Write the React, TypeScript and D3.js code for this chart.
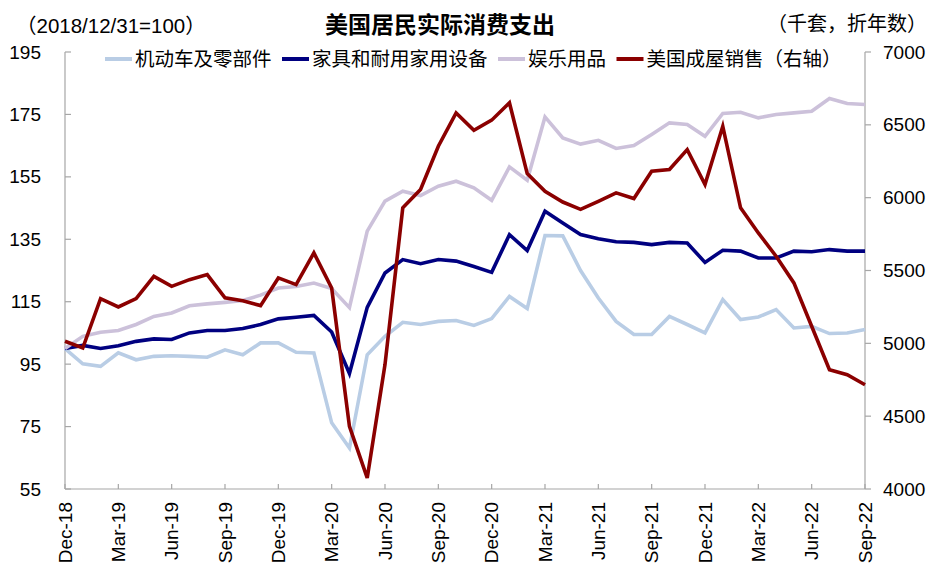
import * as d3 from "d3";

const W = 930;
const H = 570;
const PLOT = { left: 65, right: 865, top: 52, bottom: 489 };

// monthly labels Dec-18 ... Sep-22
const MONTHS = ["Jan", "Feb", "Mar", "Apr", "May", "Jun", "Jul", "Aug", "Sep", "Oct", "Nov", "Dec"];
const monthLabels: string[] = ["Dec-18"];
for (let y = 19; y <= 22; y++) {
    for (let m = 0; m < 12; m++) {
        if (y === 22 && m > 8) break;
        monthLabels.push(`${MONTHS[m]}-${y}`);
    }
}

const leftTicks = [55, 75, 95, 115, 135, 155, 175, 195];
const rightTicks = [4000, 4500, 5000, 5500, 6000, 6500, 7000];

const seriesNames = ["机动车及零部件", "家具和耐用家用设备", "娱乐用品", "美国成屋销售（右轴）"];
const seriesColors = ["#B9CDE5", "#000080", "#CCC1DA", "#8B0000"];

const autoParts = [
    100, 95.1, 94.3, 98.6, 96.4, 97.5, 97.7, 97.5, 97.2, 99.6, 98.0, 101.8, 101.8, 98.8, 98.6, 76.2,
    68.1, 98.0, 103.9, 108.4, 107.7, 108.7, 109.0, 107.4, 109.6, 116.7, 112.8, 136.2, 136.1, 125.0,
    116.2, 108.7, 104.5, 104.5, 110.3, 107.7, 105.0, 115.7, 109.3, 110.1, 112.5, 106.6, 107.1, 104.8,
    105.0, 106.1,
];
const furniture = [
    100, 101.0, 100.0, 100.9, 102.3, 103.1, 102.9, 105.0, 105.8, 105.8, 106.4, 107.7, 109.5, 110.0,
    110.6, 105.3, 92.0, 113.2, 124.2, 128.5, 127.2, 128.5, 128.0, 126.3, 124.4, 136.5, 131.4, 144.0,
    140.2, 136.5, 135.2, 134.2, 134.0, 133.3, 134.0, 133.8, 127.6, 131.5, 131.2, 129.0, 129.0, 131.2,
    131.0, 131.7, 131.2, 131.2,
];
const recreation = [
    100, 103.9, 105.2, 105.8, 107.7, 110.3, 111.4, 113.7, 114.3, 114.8, 115.4, 117.1, 119.4, 119.9,
    121.0, 119.2, 113.1, 137.6, 147.2, 150.4, 149.0, 152.0, 153.6, 151.5, 147.5, 158.2, 153.9, 174.2,
    167.5, 165.5, 166.7, 164.1, 165.0, 168.6, 172.3, 171.8, 168.0, 175.3, 175.7, 173.9, 175.0, 175.5,
    176.0, 180.1, 178.5, 178.2,
];
const homeSales = [
    5014, 4968, 5307, 5250, 5307, 5460, 5391, 5437, 5472, 5312, 5293, 5259, 5449, 5403, 5621, 5380,
    4430, 4076, 4854, 5930, 6056, 6353, 6582, 6463, 6532, 6651, 6165, 6044, 5970, 5920, 5975, 6033,
    5994, 6181, 6193, 6330, 6090, 6490, 5930, 5758, 5598, 5415, 5117, 4819, 4785, 4716,
];

const FONT = '"Liberation Sans", Arial, "Noto Sans CJK SC", sans-serif';
const AXIS = "#A6A6A6";

export default function App() {
    const xScale = d3.scaleLinear().domain([0, monthLabels.length - 1]).range([PLOT.left, PLOT.right]);
    const yLeft = d3.scaleLinear().domain([55, 195]).range([PLOT.bottom, PLOT.top]);
    const yRight = d3.scaleLinear().domain([4000, 7000]).range([PLOT.bottom, PLOT.top]);

    const leftLine = d3.line<number>().x((_, i) => xScale(i)).y((d) => yLeft(d));
    const rightLine = d3.line<number>().x((_, i) => xScale(i)).y((d) => yRight(d));

    const paths = [
        leftLine(autoParts),
        leftLine(furniture),
        leftLine(recreation),
        rightLine(homeSales),
    ];

    const quarterIdx = monthLabels.map((_, i) => i).filter((i) => i % 3 === 0);

    // legend layout
    const legendFs = 19.5;
    let lx = 105;
    const legendItems = seriesNames.map((name, i) => {
        const item = { x: lx, name, color: seriesColors[i] };
        lx += 27 + 3 + name.length * legendFs + 10.5;
        return item;
    });

    return (
        <svg
            width={W}
            height={H}
            style={{ position: "absolute", left: 0, top: 0, background: "#fff" }}
            fontFamily={FONT}
        >
            <rect width={W} height={H} fill="#fff" />
            {/* titles */}
            <text x={440} y={25} textAnchor="middle" dominantBaseline="central" fontSize={23} fontWeight="bold">
                美国居民实际消费支出
            </text>
            <text x={16} y={25} dominantBaseline="central" fontSize={20.5}>
                （2018/12/31=100）
            </text>
            <text x={927} y={24} textAnchor="end" dominantBaseline="central" fontSize={20}>
                （千套，折年数）
            </text>

            {/* axes */}
            <g stroke={AXIS} strokeWidth={1.2} fill="none">
                <line x1={PLOT.left} x2={PLOT.left} y1={PLOT.top} y2={PLOT.bottom} />
                <line x1={PLOT.right} x2={PLOT.right} y1={PLOT.top} y2={PLOT.bottom} />
                <line x1={PLOT.left} x2={PLOT.right} y1={PLOT.bottom} y2={PLOT.bottom} />
                {leftTicks.map((t) => (
                    <line key={t} x1={PLOT.left} x2={PLOT.left + 6} y1={yLeft(t)} y2={yLeft(t)} />
                ))}
                {rightTicks.map((t) => (
                    <line key={t} x1={PLOT.right} x2={PLOT.right + 6} y1={yRight(t)} y2={yRight(t)} />
                ))}
                {quarterIdx.map((i) => (
                    <line key={i} x1={xScale(i)} x2={xScale(i)} y1={PLOT.bottom} y2={PLOT.bottom - 5} />
                ))}
            </g>

            {leftTicks.map((t) => (
                <text key={t} x={41} y={yLeft(t)} textAnchor="end" dominantBaseline="central" fontSize={19}>
                    {t}
                </text>
            ))}
            {rightTicks.map((t) => (
                <text key={t} x={883} y={yRight(t)} dominantBaseline="central" fontSize={19}>
                    {t}
                </text>
            ))}
            {quarterIdx.map((i) => (
                <text
                    key={i}
                    transform={`translate(${xScale(i)},502) rotate(-90)`}
                    textAnchor="end"
                    dominantBaseline="central"
                    fontSize={19}
                >
                    {monthLabels[i]}
                </text>
            ))}

            {/* series */}
            {paths.map((d, i) => (
                <path
                    key={i}
                    d={d ?? ""}
                    fill="none"
                    stroke={seriesColors[i]}
                    strokeWidth={3.6}
                    strokeLinejoin="miter"
                />
            ))}

            {/* legend */}
            {legendItems.map((it) => (
                <g key={it.name}>
                    <line x1={it.x} x2={it.x + 27} y1={59} y2={59} stroke={it.color} strokeWidth={4} />
                    <text x={it.x + 30} y={59} dominantBaseline="central" fontSize={legendFs}>
                        {it.name}
                    </text>
                </g>
            ))}
        </svg>
    );
}
